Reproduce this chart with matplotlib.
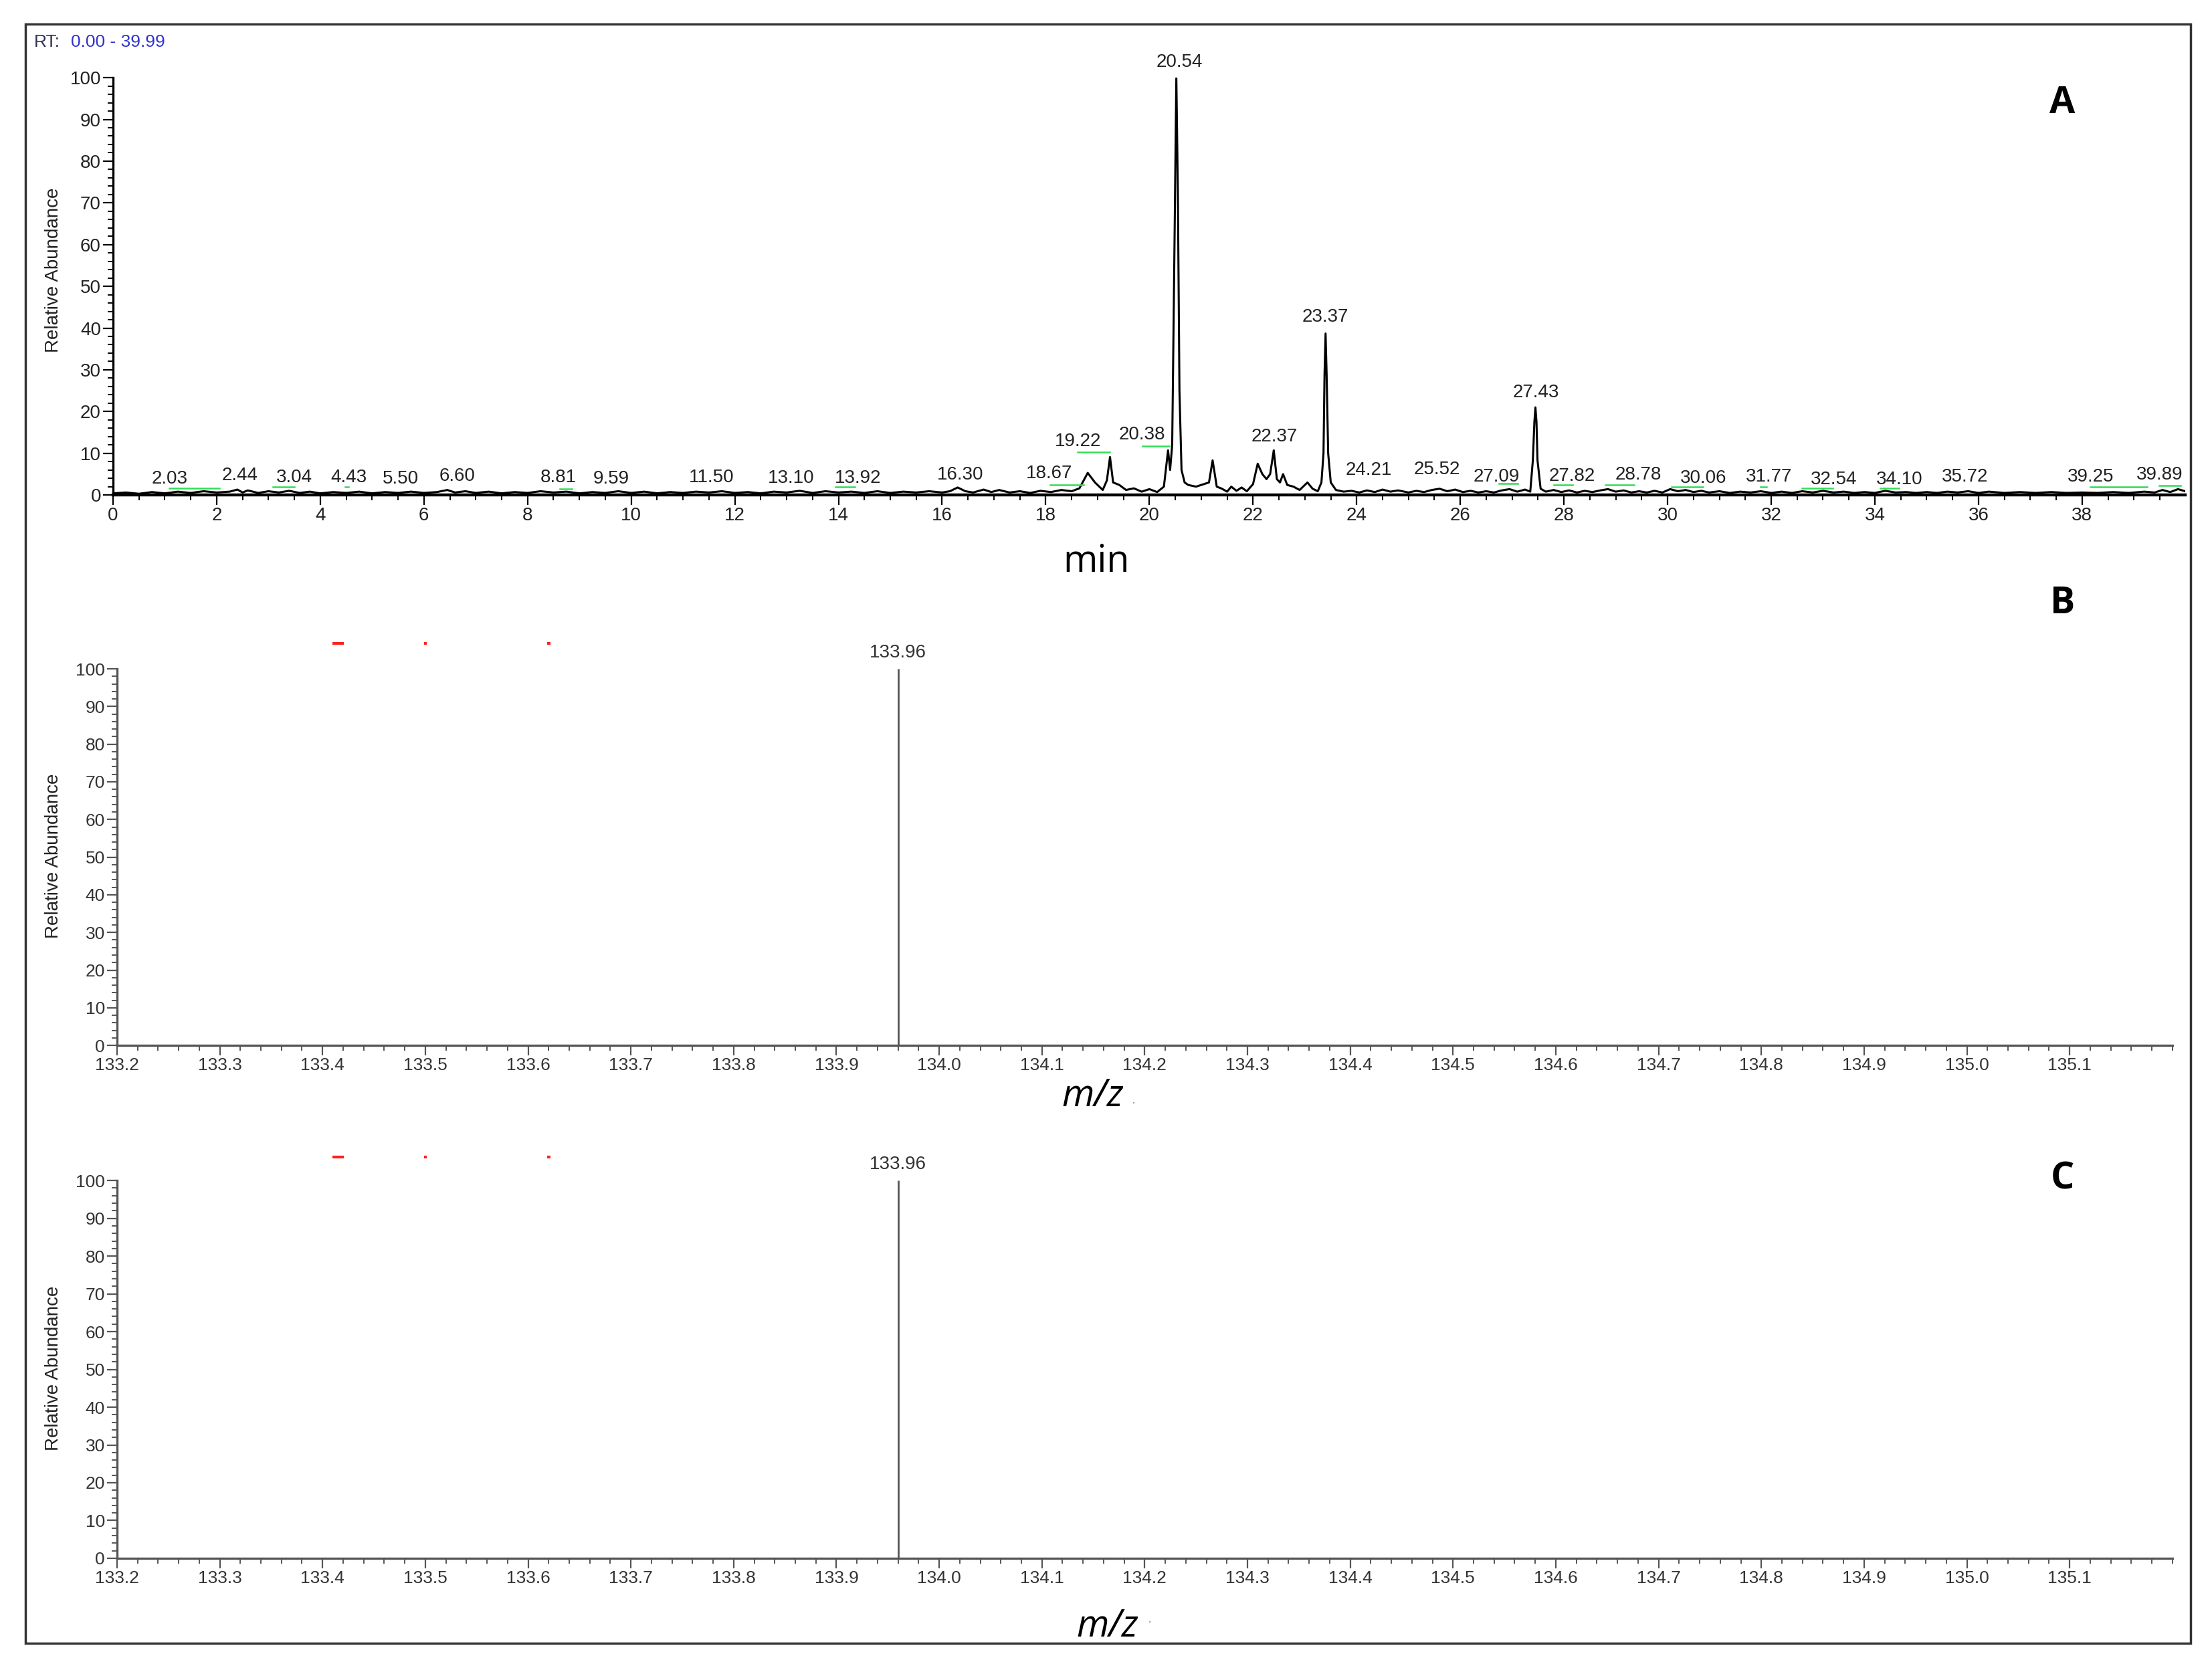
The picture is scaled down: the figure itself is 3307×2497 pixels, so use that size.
import matplotlib
matplotlib.use("Agg")
import matplotlib.pyplot as plt
from matplotlib.patches import Rectangle
from matplotlib.ticker import MultipleLocator, FormatStrFormatter

# --- panel A: total ion chromatogram ---
rt_min = [0.0, 0.25, 0.5, 0.75, 1.0, 1.25, 1.5, 1.75, 2.0, 2.25, 2.4, 2.5, 2.6, 2.8,
          3.0, 3.2, 3.4, 3.6, 3.8, 4.0, 4.25, 4.5, 4.75, 5.0, 5.25, 5.5, 5.75, 6.0,
          6.25, 6.45, 6.6, 6.8, 7.0, 7.25, 7.5, 7.75, 8.0, 8.25, 8.5, 8.75, 9.0, 9.25,
          9.5, 9.75, 10.0, 10.25, 10.5, 10.75, 11.0, 11.25, 11.5, 11.75, 12.0, 12.25,
          12.5, 12.75, 13.0, 13.25, 13.5, 13.75, 14.0, 14.25, 14.5, 14.75, 15.0, 15.25,
          15.5, 15.75, 16.0, 16.15, 16.3, 16.45, 16.6, 16.8, 16.95, 17.1, 17.3, 17.5,
          17.7, 17.9, 18.1, 18.3, 18.5, 18.65, 18.81, 18.95, 19.1, 19.18, 19.24, 19.3,
          19.42, 19.55, 19.7, 19.85, 20.0, 20.15, 20.28, 20.36, 20.40, 20.44, 20.48,
          20.52, 20.55, 20.58, 20.62, 20.68, 20.75, 20.9, 21.05, 21.15, 21.22, 21.3,
          21.4, 21.5, 21.58, 21.68, 21.78, 21.88, 22.0, 22.09, 22.18, 22.26, 22.33,
          22.40, 22.46, 22.52, 22.58, 22.66, 22.78, 22.9, 23.05, 23.15, 23.25, 23.32,
          23.36, 23.38, 23.40, 23.42, 23.45, 23.5, 23.6, 23.75, 23.9, 24.05, 24.2,
          24.35, 24.5, 24.65, 24.8, 25.0, 25.15, 25.3, 25.45, 25.6, 25.75, 25.9, 26.05,
          26.2, 26.35, 26.5, 26.65, 26.8, 26.95, 27.1, 27.25, 27.35, 27.40, 27.43,
          27.45, 27.47, 27.49, 27.55, 27.65, 27.8, 27.95, 28.1, 28.25, 28.4, 28.55,
          28.7, 28.85, 29.0, 29.15, 29.3, 29.45, 29.6, 29.75, 29.9, 30.05, 30.2, 30.35,
          30.5, 30.65, 30.8, 31.0, 31.2, 31.4, 31.6, 31.8, 32.0, 32.2, 32.4, 32.6, 32.8,
          33.0, 33.2, 33.4, 33.6, 33.8, 34.0, 34.2, 34.4, 34.6, 34.8, 35.0, 35.2, 35.4,
          35.6, 35.8, 36.0, 36.2, 36.5, 36.8, 37.1, 37.4, 37.7, 38.0, 38.3, 38.6, 38.9,
          39.2, 39.4, 39.55, 39.7, 39.85, 39.99]
tic_rel = [0.4, 0.6, 0.3, 0.7, 0.4, 0.8, 0.5, 0.9, 0.6, 0.8, 1.3, 0.6, 1.1, 0.5,
           0.9, 0.6, 1.0, 0.5, 0.8, 0.4, 0.7, 0.5, 0.8, 0.4, 0.7, 0.5, 0.8, 0.5,
           0.7, 1.2, 0.6, 0.9, 0.5, 0.8, 0.4, 0.7, 0.5, 0.9, 0.6, 0.8, 0.4, 0.7,
           0.5, 0.9, 0.5, 0.8, 0.4, 0.7, 0.5, 0.8, 0.6, 0.9, 0.5, 0.7,
           0.4, 0.8, 0.6, 1.0, 0.5, 0.9, 0.6, 0.8, 0.5, 0.9, 0.5, 0.8,
           0.6, 0.9, 0.6, 0.9, 1.8, 0.9, 0.6, 1.3, 0.7, 1.2, 0.6, 0.9,
           0.5, 1.0, 0.7, 1.2, 0.9, 1.6, 5.3, 3.0, 1.2, 3.5, 9.1, 3.0,
           2.4, 1.2, 1.6, 0.8, 1.4, 0.7, 2.0, 10.7, 6.0, 12.0, 55.0,
           100.0, 72.0, 25.0, 6.0, 3.0, 2.4, 2.0, 2.6, 3.0, 8.3, 2.0,
           1.5, 0.8, 2.0, 1.0, 1.8, 0.9, 2.6, 7.5, 5.0, 3.8, 5.0,
           10.7, 3.8, 3.0, 5.0, 2.4, 2.0, 1.2, 3.0, 1.5, 0.9, 3.0,
           10.0, 29.0, 38.7, 29.0, 10.0, 3.0, 1.2, 0.8, 1.0, 0.6, 1.1,
           0.7, 1.3, 0.8, 1.1, 0.6, 1.0, 0.7, 1.2, 1.5, 0.9, 1.3, 0.7,
           1.0, 0.6, 0.9, 0.6, 1.1, 1.4, 0.8, 1.3, 0.8, 8.3, 17.6,
           21.0, 17.6, 8.3, 1.5, 0.8, 1.2, 0.7, 1.1, 0.6, 1.0, 0.7,
           1.1, 1.4, 0.8, 1.1, 0.6, 0.9, 0.6, 1.0, 0.6, 1.4, 0.9, 1.2,
           0.7, 1.0, 0.6, 0.9, 0.5, 0.8, 0.6, 0.9, 0.5, 0.8, 0.5, 0.9, 0.6,
           1.0, 0.6, 0.8, 0.5, 0.7, 0.5, 1.0, 0.6, 0.7, 0.5, 0.7, 0.5, 0.8,
           0.6, 0.9, 0.5, 0.8, 0.5, 0.7, 0.5, 0.7, 0.5, 0.6, 0.5, 0.7, 0.5,
           0.8, 0.6, 1.2, 0.7, 1.4, 0.9]

# peak labels: text, x position (min), y position (%)
peak_text = ["2.03", "2.44", "3.04", "4.43", "5.50", "6.60", "8.81", "9.59", "11.50",
             "13.10", "13.92", "16.30", "18.67", "19.22", "20.38", "20.54", "22.37",
             "23.37", "24.21", "25.52", "27.09", "27.43", "27.82", "28.78", "30.06",
             "31.77", "32.54", "34.10", "35.72", "39.25", "39.89"]
peak_x = [1.09, 2.45, 3.5, 4.55, 5.55, 6.64, 8.59, 9.62, 11.55,
          13.09, 14.38, 16.35, 18.07, 18.62, 19.86, 20.58, 22.41,
          23.39, 24.23, 25.55, 26.70, 27.46, 28.16, 29.44, 30.69,
          31.95, 33.21, 34.47, 35.74, 38.16, 39.49]
peak_y = [3.9, 4.7, 4.2, 4.2, 3.9, 4.5, 4.2, 3.9, 4.2,
          4.0, 4.0, 4.8, 5.1, 12.8, 14.4, 103.7, 13.9,
          42.6, 5.9, 6.1, 4.3, 24.6, 4.5, 4.8, 4.0,
          4.3, 3.7, 3.7, 4.3, 4.3, 4.8]

# green integration baselines: start, end (min), level (%)
green_start = [1.09, 3.09, 4.48, 8.62, 13.94, 18.09, 18.62, 19.87, 26.75, 27.80,
               28.80, 30.08, 31.79, 32.60, 34.10, 38.16, 39.49]
green_end = [2.05, 3.50, 4.55, 8.86, 14.32, 18.73, 19.23, 20.38, 27.11, 28.16,
             29.35, 30.68, 31.91, 33.19, 34.47, 39.26, 39.90]
green_level = [1.7, 2.0, 2.0, 1.4, 1.9, 2.4, 10.3, 11.7, 2.8, 2.5,
               2.4, 1.9, 1.9, 1.7, 1.6, 1.9, 2.3]

# --- panels B and C: mass spectra ---
mz_peak = [133.96]
mz_abund = [100.0]
red_mark_mz = [133.415, 133.50, 133.62]
red_mark_width = [0.011, 0.003, 0.003]

TICK_FONT = "Liberation Sans"
WORD_FONT = "Open Sans"


def style_axis(ax, color):
    for side in ("top", "right"):
        ax.spines[side].set_visible(False)
    for side in ("left", "bottom"):
        ax.spines[side].set_color(color)
        ax.spines[side].set_linewidth(2.4)
    ax.tick_params(which="major", length=11, width=1.6, color=color, pad=2)
    ax.tick_params(which="minor", length=6, width=1.4, color=color)
    ax.set_facecolor("none")


def draw_spectrum(ax, red_y):
    ax.vlines(mz_peak, 0, mz_abund, color="#555555", lw=2.0)
    for mz, ab in zip(mz_peak, mz_abund):
        ax.text(mz, ab + 2.0, f"{mz:.2f}", ha="center", va="bottom",
                fontsize=20, family=TICK_FONT, color="#333333", clip_on=False)
    # small red marks above the plot area
    for mz, w in zip(red_mark_mz, red_mark_width):
        ax.plot([mz - w / 2, mz + w / 2], [red_y, red_y], color="#ff2020",
                lw=3.0, solid_capstyle="butt", clip_on=False)
    ax.set_xlim(133.2, 135.2)
    ax.set_ylim(0, 100)
    ax.xaxis.set_minor_locator(MultipleLocator(0.02))
    ax.xaxis.set_major_formatter(FormatStrFormatter("%.1f"))
    ax.yaxis.set_major_locator(MultipleLocator(10))
    ax.yaxis.set_minor_locator(MultipleLocator(2))
    # labelled ticks stop at 135.1 as in the original
    ax.set_xticks([133.2 + 0.1 * i for i in range(20)])
    style_axis(ax, "#555555")
    for lab in ax.get_xticklabels() + ax.get_yticklabels():
        lab.set_family(TICK_FONT)
        lab.set_fontsize(19)
        lab.set_color("#333333")


fig = plt.figure(figsize=(33.07, 24.97), dpi=100)

# outer frame around the whole figure
fig.patches.append(Rectangle((0.0115, 0.016), 0.9788, 0.9696, transform=fig.transFigure,
                             fill=False, lw=2.5, ec="#333333"))

# Panel A
ax_a = fig.add_axes([0.0511, 0.7036, 0.9368, 0.2499])
ax_a.plot(rt_min, tic_rel, color="black", lw=2.2)
for x0, x1, lv in zip(green_start, green_end, green_level):
    ax_a.plot([x0, x1], [lv, lv], color="#33dd55", lw=1.8)
for t, x, y in zip(peak_text, peak_x, peak_y):
    ax_a.text(x, y, t, ha="center", va="center", fontsize=20, family=TICK_FONT,
              color="#222222", clip_on=False)
ax_a.set_xlim(0, 39.99)
ax_a.set_ylim(0, 100)
ax_a.xaxis.set_major_locator(MultipleLocator(2))
ax_a.xaxis.set_minor_locator(MultipleLocator(0.5))
ax_a.yaxis.set_major_locator(MultipleLocator(10))
ax_a.yaxis.set_minor_locator(MultipleLocator(2))
style_axis(ax_a, "black")
ax_a.spines["bottom"].set_linewidth(3.2)
for lab in ax_a.get_xticklabels() + ax_a.get_yticklabels():
    lab.set_family(TICK_FONT)
    lab.set_fontsize(20)
    lab.set_color("#222222")

# Panels B and C
ax_b = fig.add_axes([0.0529, 0.374, 0.9292, 0.2255])
draw_spectrum(ax_b, 106.7)
ax_c = fig.add_axes([0.0529, 0.0669, 0.9292, 0.2262])
draw_spectrum(ax_c, 106.3)

# axis titles
for y in (0.8382, 0.4874, 0.1806):
    fig.text(0.0242, y, "Relative Abundance", rotation=90, ha="center", va="center",
             fontsize=20, family=TICK_FONT, color="#222222")
fig.text(0.4956, 0.6632, "min", ha="center", va="center", fontsize=40,
         family=WORD_FONT, color="black")
fig.text(0.494, 0.3436, "m/z", ha="center", va="center", fontsize=40,
         family=WORD_FONT, style="italic", color="black")
fig.text(0.5007, 0.026, "m/z", ha="center", va="center", fontsize=40,
         family=WORD_FONT, style="italic", color="black")
# stray grey dots next to the m/z labels
fig.text(0.5125, 0.3415, ".", ha="center", va="center", fontsize=14, color="#999999")
fig.text(0.5198, 0.0305, ".", ha="center", va="center", fontsize=14, color="#999999")

# panel letters
for letter, y in (("A", 0.9383), ("B", 0.6384), ("C", 0.294)):
    fig.text(0.9324, y, letter, ha="center", va="center", fontsize=40,
             family=WORD_FONT, weight="bold", color="black")

# retention time range header
fig.text(0.0154, 0.9748, "RT:", ha="left", va="center", fontsize=19,
         family=TICK_FONT, color="#333355")
fig.text(0.0322, 0.9748, "0.00 - 39.99", ha="left", va="center", fontsize=19,
         family=TICK_FONT, color="#3333cc")

fig.savefig("out.png", dpi=100)
